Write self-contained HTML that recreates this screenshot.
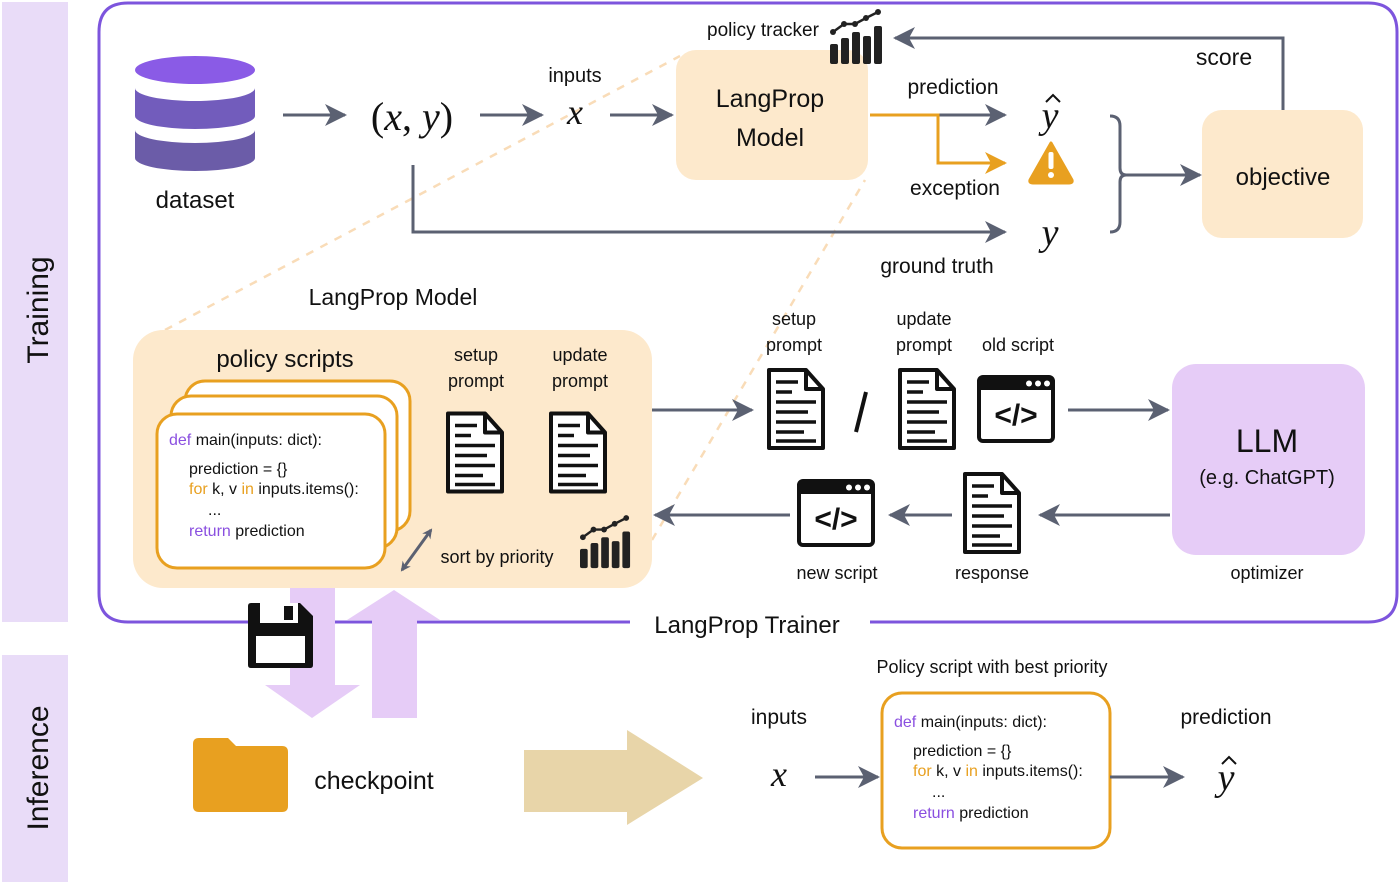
<!DOCTYPE html>
<html><head><meta charset="utf-8"><style>
html,body{margin:0;padding:0;background:#fff}
svg{display:block}
text{font-family:"Liberation Sans",sans-serif;fill:#111}
.m{font-family:"Liberation Serif",serif;font-style:italic}
</style></head><body>
<svg width="1400" height="884" viewBox="0 0 1400 884" xmlns="http://www.w3.org/2000/svg">
<defs>
<marker id="ah" markerWidth="10" markerHeight="10" refX="8" refY="5" orient="auto-start-reverse" markerUnits="userSpaceOnUse" viewBox="0 0 10 10"><path d="M0,0 L10,5 L0,10 L3,5 Z" fill="#5b6172"/></marker>
<marker id="ahb" markerWidth="22" markerHeight="22" refX="20" refY="11" orient="auto" markerUnits="userSpaceOnUse" viewBox="0 0 22 22"><path d="M0,0 L22,11 L0,22 L6,11 Z" fill="#5b6172"/></marker>
<marker id="aho" markerWidth="22" markerHeight="22" refX="20" refY="11" orient="auto" markerUnits="userSpaceOnUse" viewBox="0 0 22 22"><path d="M0,0 L22,11 L0,22 L6,11 Z" fill="#e8a020"/></marker>
<symbol id="doc" viewBox="0 0 60 84" overflow="visible">
<path d="M3,3 H40 L57,22 V81 H3 Z" fill="#fff" stroke="#111" stroke-width="4" stroke-linejoin="round"/>
<path d="M40,3 V22 H57" fill="none" stroke="#111" stroke-width="4" stroke-linejoin="round"/>
<g stroke="#111" stroke-width="3.5"><line x1="10" y1="15" x2="32" y2="15"/><line x1="10" y1="25" x2="26" y2="25"/><line x1="10" y1="35" x2="50" y2="35"/><line x1="10" y1="45" x2="42" y2="45"/><line x1="10" y1="55" x2="50" y2="55"/><line x1="10" y1="65" x2="38" y2="65"/><line x1="10" y1="74" x2="50" y2="74"/></g>
</symbol>
<symbol id="win" viewBox="0 0 78 68" overflow="visible">
<rect x="2" y="2" width="74" height="64" rx="4" fill="#fff" stroke="#111" stroke-width="4"/>
<rect x="2" y="2" width="74" height="13" fill="#111"/>
<circle cx="52" cy="8.5" r="3" fill="#fff"/><circle cx="61" cy="8.5" r="3" fill="#fff"/><circle cx="70" cy="8.5" r="3" fill="#fff"/>
<text x="39" y="50" text-anchor="middle" font-size="30" font-weight="bold" style="font-family:'Liberation Sans',sans-serif">&lt;/&gt;</text>
</symbol>
<symbol id="chart" viewBox="0 0 54 54" overflow="visible">
<g fill="#222"><rect x="0" y="32" width="8" height="20" rx="2"/><rect x="11" y="26" width="8" height="26" rx="2"/><rect x="22" y="20" width="8" height="32" rx="2"/><rect x="33" y="24" width="8" height="28" rx="2"/><rect x="44" y="14" width="8" height="38" rx="2"/></g>
<polyline points="3,20 14,12 25,12 36,6 48,0" fill="none" stroke="#222" stroke-width="2.5"/>
<g fill="#222"><circle cx="3" cy="20" r="3"/><circle cx="14" cy="12" r="3"/><circle cx="25" cy="12" r="3"/><circle cx="36" cy="6" r="3"/><circle cx="48" cy="0" r="3"/></g>
</symbol>
</defs>

<rect x="2" y="2" width="66" height="620" fill="#e9dcf8"/>
<rect x="2" y="655" width="66" height="227" fill="#e9dcf8"/>
<text transform="translate(48,310) rotate(-90)" text-anchor="middle" font-size="30">Training</text>
<text transform="translate(48,768) rotate(-90)" text-anchor="middle" font-size="30">Inference</text>

<path d="M630,622 H128 Q99,622 99,593 V32 Q99,3 128,3 H1368 Q1397,3 1397,32 V593 Q1397,622 1368,622 H870" fill="none" stroke="#7d55dd" stroke-width="3"/>
<text x="747" y="633" text-anchor="middle" font-size="24">LangProp Trainer</text>

<line x1="165" y1="330" x2="680" y2="56" stroke="#f9dcb8" stroke-width="2.5" stroke-dasharray="8,8"/>
<line x1="652" y1="540" x2="865" y2="180" stroke="#f9dcb8" stroke-width="2.5" stroke-dasharray="8,8"/>

<path d="M135,130 V158 A60,13 0 0 0 255,158 V130 A60,13 0 0 1 135,130 Z" fill="#6b5ca8"/>
<path d="M135,88 V116 A60,13 0 0 0 255,116 V88 A60,13 0 0 1 135,88 Z" fill="#725cbc"/>
<ellipse cx="195" cy="70" rx="60" ry="14" fill="#8a5be6"/>
<text x="195" y="208" text-anchor="middle" font-size="24">dataset</text>

<g stroke="#5b6172" stroke-width="3" fill="none">
<line x1="283" y1="115" x2="345" y2="115" marker-end="url(#ahb)"/>
<line x1="480" y1="115" x2="542" y2="115" marker-end="url(#ahb)"/>
<line x1="610" y1="115" x2="672" y2="115" marker-end="url(#ahb)"/>
<line x1="870" y1="115" x2="1005" y2="115" marker-end="url(#ahb)"/>
<polyline points="413,165 413,232 1005,232" marker-end="url(#ahb)"/>
<polyline points="1283,110 1283,38 895,38" marker-end="url(#ahb)"/>
<path d="M1110,116 Q1120,116 1120,126 V168 Q1120,175 1126,175 Q1120,175 1120,182 V222 Q1120,232 1110,232"/>
<line x1="1126" y1="175" x2="1200" y2="175" marker-end="url(#ahb)"/>
</g>
<polyline points="870,115 938,115 938,163 1005,163" fill="none" stroke="#e8a020" stroke-width="3" marker-end="url(#aho)"/>

<text x="412" y="130" text-anchor="middle" font-size="40" class="m" style="font-style:normal">(<tspan font-style="italic">x</tspan>, <tspan font-style="italic">y</tspan>)</text>
<text x="575" y="82" text-anchor="middle" font-size="20">inputs</text>
<text x="575" y="124" text-anchor="middle" font-size="36" class="m">x</text>

<rect x="676" y="50" width="192" height="130" rx="20" fill="#fde9cc"/>
<text x="770" y="107" text-anchor="middle" font-size="25">LangProp</text>
<text x="770" y="146" text-anchor="middle" font-size="25">Model</text>
<text x="763" y="36" text-anchor="middle" font-size="19">policy tracker</text>
<use href="#chart" x="830" y="12" width="54" height="54"/>

<text x="953" y="94" text-anchor="middle" font-size="21">prediction</text>
<text x="955" y="195" text-anchor="middle" font-size="21">exception</text>
<text x="937" y="273" text-anchor="middle" font-size="21">ground truth</text>
<text x="1224" y="65" text-anchor="middle" font-size="23">score</text>
<text x="1050" y="128" text-anchor="middle" font-size="38" class="m">y</text>
<path d="M1046,102 L1053,95 L1060,102" fill="none" stroke="#111" stroke-width="2"/>
<text x="1050" y="245" text-anchor="middle" font-size="38" class="m">y</text>
<path d="M1051,143 L1072,180 Q1073,183 1069,183 H1033 Q1029,183 1030,180 Z" fill="#e8a020" stroke="#e8a020" stroke-width="3" stroke-linejoin="round"/>
<rect x="1048.5" y="152" width="5" height="17" rx="2" fill="#fff"/><circle cx="1051" cy="175" r="3" fill="#fff"/>

<rect x="1202" y="110" width="161" height="128" rx="20" fill="#fde9cc"/>
<text x="1283" y="185" text-anchor="middle" font-size="24">objective</text>

<text x="393" y="305" text-anchor="middle" font-size="23">LangProp Model</text>

<rect x="133" y="330" width="519" height="258" rx="30" fill="#fde9cc"/>
<text x="285" y="367" text-anchor="middle" font-size="24">policy scripts</text>
<rect x="185" y="381" width="225" height="150" rx="20" fill="#fff" stroke="#e8a020" stroke-width="3"/>
<rect x="171" y="396" width="226" height="152" rx="20" fill="#fff" stroke="#e8a020" stroke-width="3"/>
<rect x="157" y="414" width="228" height="154" rx="20" fill="#fff" stroke="#e8a020" stroke-width="3"/>
<g font-size="16">
<text x="169" y="445"><tspan fill="#8a4fe0">def</tspan> main(inputs: dict):</text>
<text x="189" y="474">prediction = {}</text>
<text x="189" y="494"><tspan fill="#e8a020">for</tspan> k, v <tspan fill="#e8a020">in</tspan> inputs.items():</text>
<text x="208" y="515">...</text>
<text x="189" y="536"><tspan fill="#8a4fe0">return</tspan> prediction</text>
</g>
<text x="476" y="361" text-anchor="middle" font-size="18">setup</text>
<text x="476" y="387" text-anchor="middle" font-size="18">prompt</text>
<text x="580" y="361" text-anchor="middle" font-size="18">update</text>
<text x="580" y="387" text-anchor="middle" font-size="18">prompt</text>
<use href="#doc" x="445" y="410" width="60" height="85"/>
<use href="#doc" x="548" y="410" width="60" height="85"/>
<line x1="402" y1="570" x2="431" y2="530" stroke="#5b6172" stroke-width="3" marker-start="url(#ah)" marker-end="url(#ah)"/>
<text x="497" y="563" text-anchor="middle" font-size="18">sort by priority</text>
<use href="#chart" x="580" y="518" width="52" height="52"/>

<g stroke="#5b6172" stroke-width="3" fill="none">
<line x1="652" y1="410" x2="752" y2="410" marker-end="url(#ahb)"/>
<line x1="1068" y1="410" x2="1168" y2="410" marker-end="url(#ahb)"/>
<line x1="1170" y1="515" x2="1040" y2="515" marker-end="url(#ahb)"/>
<line x1="952" y1="515" x2="890" y2="515" marker-end="url(#ahb)"/>
<line x1="790" y1="515" x2="655" y2="515" marker-end="url(#ahb)"/>
</g>
<text x="794" y="325" text-anchor="middle" font-size="18">setup</text>
<text x="794" y="351" text-anchor="middle" font-size="18">prompt</text>
<text x="924" y="325" text-anchor="middle" font-size="18">update</text>
<text x="924" y="351" text-anchor="middle" font-size="18">prompt</text>
<text x="1018" y="351" text-anchor="middle" font-size="18">old script</text>
<use href="#doc" x="766" y="367" width="60" height="84"/>
<line x1="866" y1="392" x2="856" y2="432" stroke="#111" stroke-width="4"/>
<use href="#doc" x="897" y="367" width="60" height="84"/>
<use href="#win" x="977" y="375" width="78" height="68"/>
<use href="#doc" x="962" y="471" width="60" height="84"/>
<use href="#win" x="797" y="479" width="78" height="68"/>
<text x="837" y="579" text-anchor="middle" font-size="18">new script</text>
<text x="992" y="579" text-anchor="middle" font-size="18">response</text>

<rect x="1172" y="364" width="193" height="191" rx="24" fill="#e6ccf7"/>
<text x="1267" y="452" text-anchor="middle" font-size="32">LLM</text>
<text x="1267" y="484" text-anchor="middle" font-size="20">(e.g. ChatGPT)</text>
<text x="1267" y="579" text-anchor="middle" font-size="18">optimizer</text>

<path d="M290,588 H335 V685 H360 L312,718 L265,685 H290 Z" fill="#e6ccf7"/>
<path d="M372,718 H417 V620 H440 L394,590 L347,620 H372 Z" fill="#e6ccf7"/>
<g>
<path d="M248,606 Q248,603 251,603 H300 L313,616 V665 Q313,668 310,668 H251 Q248,668 248,665 Z" fill="#111"/>
<rect x="260" y="603" width="38" height="20" fill="#fff"/><rect x="284" y="606" width="9" height="14" fill="#111"/>
<rect x="256" y="636" width="49" height="27" fill="#fff"/>
</g>

<path d="M193,744 Q193,738 199,738 H228 L236,746 H282 Q288,746 288,752 V806 Q288,812 282,812 H199 Q193,812 193,806 Z" fill="#e8a020"/>
<text x="374" y="789" text-anchor="middle" font-size="25">checkpoint</text>
<path d="M524,750 H627 V730 L703,778 L627,825 V812 H524 Z" fill="#e8d5a9"/>

<text x="779" y="724" text-anchor="middle" font-size="21">inputs</text>
<text x="779" y="786" text-anchor="middle" font-size="36" class="m">x</text>
<line x1="815" y1="777" x2="878" y2="777" stroke="#5b6172" stroke-width="3" marker-end="url(#ahb)"/>
<text x="992" y="673" text-anchor="middle" font-size="18">Policy script with best priority</text>
<rect x="882" y="693" width="228" height="155" rx="20" fill="#fff" stroke="#e8a020" stroke-width="3"/>
<g font-size="16">
<text x="894" y="727"><tspan fill="#8a4fe0">def</tspan> main(inputs: dict):</text>
<text x="913" y="756">prediction = {}</text>
<text x="913" y="776"><tspan fill="#e8a020">for</tspan> k, v <tspan fill="#e8a020">in</tspan> inputs.items():</text>
<text x="932" y="797">...</text>
<text x="913" y="818"><tspan fill="#8a4fe0">return</tspan> prediction</text>
</g>
<line x1="1110" y1="777" x2="1183" y2="777" stroke="#5b6172" stroke-width="3" marker-end="url(#ahb)"/>
<text x="1226" y="724" text-anchor="middle" font-size="21">prediction</text>
<text x="1226" y="790" text-anchor="middle" font-size="38" class="m">y</text>
<path d="M1222,764 L1229,757 L1236,764" fill="none" stroke="#111" stroke-width="2"/>
</svg>
</body></html>
